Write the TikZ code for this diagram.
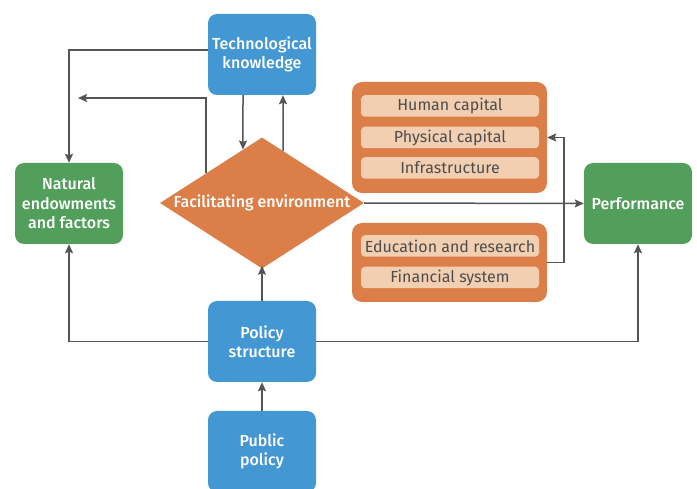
\documentclass[tikz,border=0pt]{standalone}
\usepackage{fontspec}
\setmainfont{Fira Sans}
\newfontfamily\medfont{Fira Sans}[UprightFont={* Medium}]
\usetikzlibrary{shapes.geometric,arrows.meta,calc}
\definecolor{cblue}{HTML}{4397D3}
\definecolor{cgreen}{HTML}{529E5B}
\definecolor{corange}{HTML}{DC7E48}
\definecolor{clight}{HTML}{F2CFB1}
\definecolor{cline}{HTML}{555555}
\definecolor{ctext}{HTML}{4D4D4D}
\begin{document}
\begin{tikzpicture}[x=1pt,y=-1pt,
  box/.style={rounded corners=9pt,minimum width=108pt,minimum height=81pt,inner sep=2pt,
    text=white,align=center,font=\medfont\fontsize{16}{19.5}\selectfont},
  bluebox/.style={box,fill=cblue},
  greenbox/.style={box,fill=cgreen},
  grp/.style={rounded corners=10pt,fill=corange,minimum width=195pt},
  item/.style={rounded corners=4pt,fill=clight,minimum width=178pt,minimum height=21.5pt,inner sep=0pt,
    text=ctext,font=\fontsize{16}{18}\selectfont},
  conn/.style={draw=cline,line width=1.5pt,-{Stealth[length=9pt,width=8pt,inset=1.5pt]}}]
\useasboundingbox (0,0) rectangle (697,489);
% groups
\node[grp,minimum height=111pt] (g1) at (449.5,137.5) {};
\node[grp,minimum height=79pt] (g2) at (449.5,262.5) {};
\node[item] (hum) at (450,106) {Human capital};
\node[item] (phys) at (450,137.5) {Physical capital};
\node[item] (infra) at (450,168) {Infrastructure};
\node[item] (edu) at (450,246) {Education and research};
\node[item] (fin) at (450,277.5) {Financial system};
% boxes
\node[bluebox] (tech) at (262,54.5) {Technological\\knowledge};
\node[greenbox] (nat) at (69,203.5) {Natural\\endowments\\and factors};
\node[greenbox] (perf) at (638,203.5) {Performance};
\node[bluebox] (pol) at (262,341.5) {Policy\\structure};
\node[bluebox] (pub) at (262,451.5) {Public\\policy};
% diamond
\node[diamond,fill=corange,minimum width=204pt,minimum height=131pt,inner sep=0pt,
  label={[text=white,font=\medfont\fontsize{16}{18}\selectfont]center:Facilitating environment}] (dia) at (262,203) {};
% connectors
\coordinate (free) at (78,98);
\draw[conn] ([yshift=4.5pt]tech.west) -| (nat.north);
\draw[conn] ($(dia.north)!0.55!(dia.west)$) |- (free);
\draw[conn] (tech.south -| 243,0) -- ($(dia.north)!0.186!(dia.west)$);
\draw[conn] ($(dia.north)!0.206!(dia.east)$) -- (tech.south -| 283,0);
\draw[conn] (dia.east) -- (perf.west);
\draw[conn] (g2.east) -- ++(17,0) |- (g1.east |- phys.east);
\draw[conn] (pol.north) -- ([yshift=3pt]dia.south);
\draw[conn] (pub.north) -- (pol.south);
\draw[conn] (pol.west) -| (nat.south);
\draw[conn] (pol.east) -| (perf.south);
\end{tikzpicture}
\end{document}
